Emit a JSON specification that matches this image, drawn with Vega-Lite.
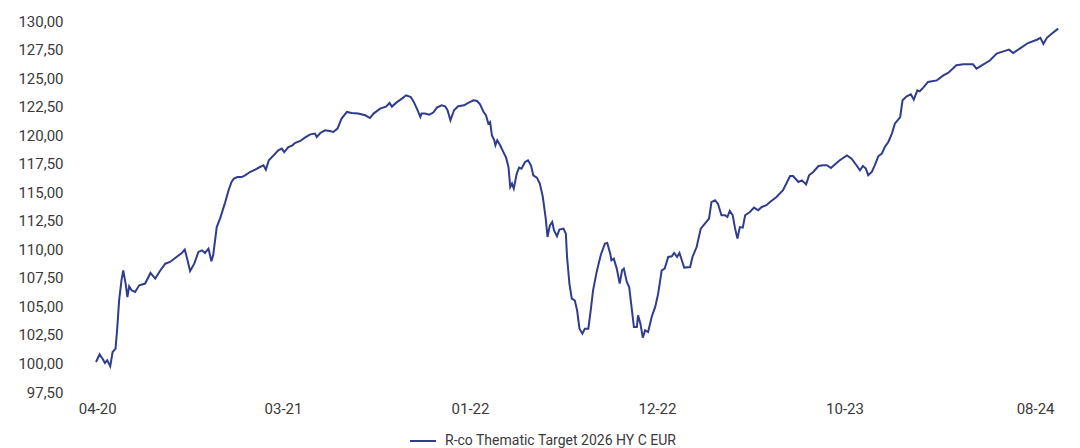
{
  "$schema": "https://vega.github.io/schema/vega-lite/v6.json",
  "autosize": {"type": "none"},
  "width": 1000,
  "height": 371,
  "padding": {"left": 70, "top": 21, "right": 10, "bottom": 56},
  "background": "#ffffff",
  "config": {
    "view": {"stroke": null},
    "font": "Roboto",
    "axis": {"labelFont": "Roboto", "labelColor": "#3a3a3a", "labelFontSize": 15, "grid": false, "domain": false, "ticks": false, "tickSize": 0, "title": null},
    "legend": {"labelFont": "Roboto", "labelFontSize": 14, "labelColor": "#3a3a3a", "labelLimit": 500}
  },
  "data": {"values": [
    {"date": "2020-04-27", "value": 100.13},
    {"date": "2020-05-03", "value": 100.80},
    {"date": "2020-05-08", "value": 100.42},
    {"date": "2020-05-12", "value": 100.04},
    {"date": "2020-05-16", "value": 100.28},
    {"date": "2020-05-21", "value": 99.75},
    {"date": "2020-05-25", "value": 101.0},
    {"date": "2020-05-30", "value": 101.3},
    {"date": "2020-06-02", "value": 103.2},
    {"date": "2020-06-05", "value": 105.53},
    {"date": "2020-06-09", "value": 107.28},
    {"date": "2020-06-12", "value": 108.16},
    {"date": "2020-06-16", "value": 107.0},
    {"date": "2020-06-19", "value": 105.82},
    {"date": "2020-06-22", "value": 106.76},
    {"date": "2020-06-26", "value": 106.41},
    {"date": "2020-07-02", "value": 106.26},
    {"date": "2020-07-09", "value": 106.85},
    {"date": "2020-07-19", "value": 107.0},
    {"date": "2020-07-28", "value": 107.93},
    {"date": "2020-08-05", "value": 107.43},
    {"date": "2020-08-13", "value": 108.10},
    {"date": "2020-08-22", "value": 108.74},
    {"date": "2020-08-30", "value": 108.89},
    {"date": "2020-09-10", "value": 109.33},
    {"date": "2020-09-19", "value": 109.68},
    {"date": "2020-09-24", "value": 109.97},
    {"date": "2020-09-28", "value": 109.18},
    {"date": "2020-10-03", "value": 108.10},
    {"date": "2020-10-10", "value": 108.74},
    {"date": "2020-10-17", "value": 109.77},
    {"date": "2020-10-23", "value": 109.91},
    {"date": "2020-10-28", "value": 109.68},
    {"date": "2020-11-03", "value": 110.06},
    {"date": "2020-11-08", "value": 108.95},
    {"date": "2020-11-11", "value": 109.5},
    {"date": "2020-11-17", "value": 111.95},
    {"date": "2020-11-23", "value": 112.75},
    {"date": "2020-12-01", "value": 114.07},
    {"date": "2020-12-07", "value": 115.17},
    {"date": "2020-12-12", "value": 115.90},
    {"date": "2020-12-16", "value": 116.19},
    {"date": "2020-12-22", "value": 116.33},
    {"date": "2020-12-29", "value": 116.33},
    {"date": "2021-01-04", "value": 116.48},
    {"date": "2021-01-12", "value": 116.77},
    {"date": "2021-01-21", "value": 116.98},
    {"date": "2021-01-29", "value": 117.21},
    {"date": "2021-02-04", "value": 117.36},
    {"date": "2021-02-08", "value": 116.98},
    {"date": "2021-02-13", "value": 117.80},
    {"date": "2021-02-21", "value": 118.23},
    {"date": "2021-03-01", "value": 118.67},
    {"date": "2021-03-07", "value": 118.82},
    {"date": "2021-03-11", "value": 118.52},
    {"date": "2021-03-18", "value": 118.96},
    {"date": "2021-03-25", "value": 119.11},
    {"date": "2021-03-29", "value": 119.31},
    {"date": "2021-04-07", "value": 119.49},
    {"date": "2021-04-15", "value": 119.78},
    {"date": "2021-04-24", "value": 120.07},
    {"date": "2021-05-02", "value": 120.14},
    {"date": "2021-05-05", "value": 119.84},
    {"date": "2021-05-11", "value": 120.19},
    {"date": "2021-05-19", "value": 120.42},
    {"date": "2021-05-27", "value": 120.36},
    {"date": "2021-06-02", "value": 120.28},
    {"date": "2021-06-09", "value": 120.57},
    {"date": "2021-06-16", "value": 121.45},
    {"date": "2021-06-25", "value": 122.03},
    {"date": "2021-07-03", "value": 121.94},
    {"date": "2021-07-14", "value": 121.89},
    {"date": "2021-07-26", "value": 121.74},
    {"date": "2021-08-03", "value": 121.50},
    {"date": "2021-08-09", "value": 121.89},
    {"date": "2021-08-20", "value": 122.32},
    {"date": "2021-08-30", "value": 122.5},
    {"date": "2021-09-05", "value": 122.82},
    {"date": "2021-09-09", "value": 122.5},
    {"date": "2021-09-17", "value": 122.87},
    {"date": "2021-09-26", "value": 123.2},
    {"date": "2021-10-03", "value": 123.49},
    {"date": "2021-10-11", "value": 123.34},
    {"date": "2021-10-16", "value": 122.91},
    {"date": "2021-10-22", "value": 122.24},
    {"date": "2021-10-27", "value": 121.59},
    {"date": "2021-10-29", "value": 121.89},
    {"date": "2021-11-04", "value": 121.89},
    {"date": "2021-11-11", "value": 121.80},
    {"date": "2021-11-18", "value": 121.98},
    {"date": "2021-11-24", "value": 122.41},
    {"date": "2021-12-02", "value": 122.61},
    {"date": "2021-12-08", "value": 122.53},
    {"date": "2021-12-12", "value": 122.18},
    {"date": "2021-12-17", "value": 121.30},
    {"date": "2021-12-23", "value": 122.18},
    {"date": "2021-12-30", "value": 122.53},
    {"date": "2022-01-09", "value": 122.61},
    {"date": "2022-01-16", "value": 122.82},
    {"date": "2022-01-25", "value": 123.05},
    {"date": "2022-01-31", "value": 122.99},
    {"date": "2022-02-05", "value": 122.70},
    {"date": "2022-02-11", "value": 122.03},
    {"date": "2022-02-15", "value": 121.74},
    {"date": "2022-02-19", "value": 121.01},
    {"date": "2022-02-22", "value": 121.15},
    {"date": "2022-02-25", "value": 119.99},
    {"date": "2022-03-01", "value": 119.55},
    {"date": "2022-03-03", "value": 119.11},
    {"date": "2022-03-06", "value": 119.55},
    {"date": "2022-03-11", "value": 119.11},
    {"date": "2022-03-15", "value": 118.67},
    {"date": "2022-03-21", "value": 118.03},
    {"date": "2022-03-25", "value": 117.21},
    {"date": "2022-03-28", "value": 115.46},
    {"date": "2022-03-31", "value": 115.76},
    {"date": "2022-04-03", "value": 115.32},
    {"date": "2022-04-08", "value": 116.63},
    {"date": "2022-04-12", "value": 117.16},
    {"date": "2022-04-16", "value": 117.07},
    {"date": "2022-04-22", "value": 117.65},
    {"date": "2022-04-27", "value": 117.80},
    {"date": "2022-05-02", "value": 117.36},
    {"date": "2022-05-06", "value": 116.48},
    {"date": "2022-05-12", "value": 116.28},
    {"date": "2022-05-17", "value": 115.76},
    {"date": "2022-05-22", "value": 114.6},
    {"date": "2022-05-27", "value": 112.69},
    {"date": "2022-05-30", "value": 111.08},
    {"date": "2022-06-03", "value": 112.10},
    {"date": "2022-06-07", "value": 112.39},
    {"date": "2022-06-10", "value": 111.66},
    {"date": "2022-06-15", "value": 111.14},
    {"date": "2022-06-19", "value": 111.73},
    {"date": "2022-06-26", "value": 111.81},
    {"date": "2022-06-30", "value": 111.37},
    {"date": "2022-07-02", "value": 109.33},
    {"date": "2022-07-06", "value": 107.0},
    {"date": "2022-07-10", "value": 105.68},
    {"date": "2022-07-15", "value": 105.53},
    {"date": "2022-07-19", "value": 104.66},
    {"date": "2022-07-23", "value": 103.05},
    {"date": "2022-07-28", "value": 102.61},
    {"date": "2022-08-01", "value": 103.05},
    {"date": "2022-08-07", "value": 103.05},
    {"date": "2022-08-11", "value": 104.66},
    {"date": "2022-08-15", "value": 106.41},
    {"date": "2022-08-21", "value": 108.0},
    {"date": "2022-08-28", "value": 109.5},
    {"date": "2022-09-04", "value": 110.5},
    {"date": "2022-09-08", "value": 110.55},
    {"date": "2022-09-13", "value": 109.62},
    {"date": "2022-09-15", "value": 109.04},
    {"date": "2022-09-19", "value": 109.18},
    {"date": "2022-09-24", "value": 108.31},
    {"date": "2022-09-29", "value": 107.0},
    {"date": "2022-10-03", "value": 108.16},
    {"date": "2022-10-06", "value": 108.31},
    {"date": "2022-10-11", "value": 107.14},
    {"date": "2022-10-15", "value": 106.70},
    {"date": "2022-10-19", "value": 104.95},
    {"date": "2022-10-23", "value": 103.19},
    {"date": "2022-10-28", "value": 103.19},
    {"date": "2022-10-30", "value": 104.22},
    {"date": "2022-11-03", "value": 103.49},
    {"date": "2022-11-07", "value": 102.26},
    {"date": "2022-11-11", "value": 102.90},
    {"date": "2022-11-16", "value": 102.75},
    {"date": "2022-11-22", "value": 104.07},
    {"date": "2022-11-28", "value": 104.95},
    {"date": "2022-12-03", "value": 106.12},
    {"date": "2022-12-09", "value": 108.16},
    {"date": "2022-12-14", "value": 108.31},
    {"date": "2022-12-20", "value": 109.33},
    {"date": "2022-12-26", "value": 109.39},
    {"date": "2022-12-30", "value": 109.68},
    {"date": "2023-01-04", "value": 109.33},
    {"date": "2023-01-08", "value": 109.68},
    {"date": "2023-01-12", "value": 109.04},
    {"date": "2023-01-16", "value": 108.40},
    {"date": "2023-01-26", "value": 108.45},
    {"date": "2023-01-30", "value": 109.33},
    {"date": "2023-02-06", "value": 110.20},
    {"date": "2023-02-13", "value": 111.81},
    {"date": "2023-02-20", "value": 112.25},
    {"date": "2023-02-27", "value": 112.69},
    {"date": "2023-03-03", "value": 114.14},
    {"date": "2023-03-09", "value": 114.29},
    {"date": "2023-03-14", "value": 114.0},
    {"date": "2023-03-20", "value": 112.98},
    {"date": "2023-03-26", "value": 112.98},
    {"date": "2023-03-30", "value": 112.83},
    {"date": "2023-04-03", "value": 113.36},
    {"date": "2023-04-08", "value": 112.98},
    {"date": "2023-04-12", "value": 111.81},
    {"date": "2023-04-16", "value": 110.94},
    {"date": "2023-04-20", "value": 111.95},
    {"date": "2023-04-25", "value": 111.90},
    {"date": "2023-04-29", "value": 112.98},
    {"date": "2023-05-07", "value": 113.27},
    {"date": "2023-05-14", "value": 113.65},
    {"date": "2023-05-21", "value": 113.42},
    {"date": "2023-05-27", "value": 113.71},
    {"date": "2023-06-04", "value": 113.86},
    {"date": "2023-06-10", "value": 114.14},
    {"date": "2023-06-21", "value": 114.58},
    {"date": "2023-07-02", "value": 115.17},
    {"date": "2023-07-14", "value": 116.42},
    {"date": "2023-07-19", "value": 116.42},
    {"date": "2023-07-28", "value": 115.90},
    {"date": "2023-08-03", "value": 116.04},
    {"date": "2023-08-10", "value": 115.69},
    {"date": "2023-08-15", "value": 116.48},
    {"date": "2023-08-22", "value": 116.77},
    {"date": "2023-08-31", "value": 117.30},
    {"date": "2023-09-08", "value": 117.36},
    {"date": "2023-09-14", "value": 117.36},
    {"date": "2023-09-21", "value": 117.12},
    {"date": "2023-09-28", "value": 117.45},
    {"date": "2023-10-06", "value": 117.80},
    {"date": "2023-10-18", "value": 118.23},
    {"date": "2023-10-26", "value": 117.94},
    {"date": "2023-11-03", "value": 117.36},
    {"date": "2023-11-09", "value": 116.92},
    {"date": "2023-11-14", "value": 117.30},
    {"date": "2023-11-19", "value": 117.07},
    {"date": "2023-11-23", "value": 116.48},
    {"date": "2023-11-29", "value": 116.77},
    {"date": "2023-12-04", "value": 117.36},
    {"date": "2023-12-10", "value": 118.15},
    {"date": "2023-12-16", "value": 118.38},
    {"date": "2023-12-21", "value": 118.96},
    {"date": "2023-12-27", "value": 119.40},
    {"date": "2024-01-02", "value": 120.14},
    {"date": "2024-01-07", "value": 121.01},
    {"date": "2024-01-16", "value": 121.59},
    {"date": "2024-01-20", "value": 123.05},
    {"date": "2024-01-27", "value": 123.40},
    {"date": "2024-02-03", "value": 123.58},
    {"date": "2024-02-08", "value": 123.11},
    {"date": "2024-02-14", "value": 123.93},
    {"date": "2024-02-18", "value": 123.84},
    {"date": "2024-02-24", "value": 124.16},
    {"date": "2024-03-03", "value": 124.66},
    {"date": "2024-03-18", "value": 124.80},
    {"date": "2024-03-29", "value": 125.24},
    {"date": "2024-04-06", "value": 125.45},
    {"date": "2024-04-20", "value": 126.12},
    {"date": "2024-05-02", "value": 126.21},
    {"date": "2024-05-18", "value": 126.21},
    {"date": "2024-05-24", "value": 125.83},
    {"date": "2024-06-02", "value": 126.12},
    {"date": "2024-06-16", "value": 126.56},
    {"date": "2024-06-27", "value": 127.14},
    {"date": "2024-07-11", "value": 127.38},
    {"date": "2024-07-18", "value": 127.49},
    {"date": "2024-07-25", "value": 127.20},
    {"date": "2024-08-05", "value": 127.58},
    {"date": "2024-08-19", "value": 128.07},
    {"date": "2024-09-03", "value": 128.36},
    {"date": "2024-09-09", "value": 128.53},
    {"date": "2024-09-14", "value": 128.0},
    {"date": "2024-09-20", "value": 128.53},
    {"date": "2024-09-28", "value": 128.88},
    {"date": "2024-10-09", "value": 129.33}
  ]},
  "mark": {"type": "line", "strokeWidth": 2, "interpolate": "linear"},
  "encoding": {
    "x": {
      "field": "date",
      "type": "temporal",
      "scale": {"type": "utc", "domain": [{"year": 2020, "month": 3, "date": 14, "utc": true}, {"year": 2024, "month": 10, "date": 29, "utc": true}]},
      "axis": {
        "values": [
          {"year": 2020, "month": 4, "date": 29, "utc": true},
          {"year": 2021, "month": 3, "date": 9, "utc": true},
          {"year": 2022, "month": 1, "date": 19, "utc": true},
          {"year": 2022, "month": 12, "date": 1, "utc": true},
          {"year": 2023, "month": 10, "date": 14, "utc": true},
          {"year": 2024, "month": 8, "date": 31, "utc": true}
        ],
        "format": "%m-%y",
        "labelPadding": 9,
        "labelFlush": false,
        "labelOverlap": false
      }
    },
    "y": {
      "field": "value",
      "type": "quantitative",
      "scale": {"domain": [97.5, 130], "zero": false, "nice": false},
      "axis": {
        "values": [97.5, 100, 102.5, 105, 107.5, 110, 112.5, 115, 117.5, 120, 122.5, 125, 127.5, 130],
        "labelExpr": "replace(format(datum.value, '.2f'), '.', ',')",
        "labelPadding": 7
      }
    },
    "color": {
      "datum": "R-co Thematic Target 2026 HY C EUR",
      "type": "nominal",
      "scale": {"range": ["#2f3d8c"]},
      "legend": {
        "title": null,
        "orient": "none",
        "legendX": 339,
        "legendY": 406,
        "symbolType": "stroke",
        "symbolSize": 676,
        "symbolStrokeWidth": 2,
        "labelOffset": 8,
        "labelLimit": 500
      }
    }
  }
}
